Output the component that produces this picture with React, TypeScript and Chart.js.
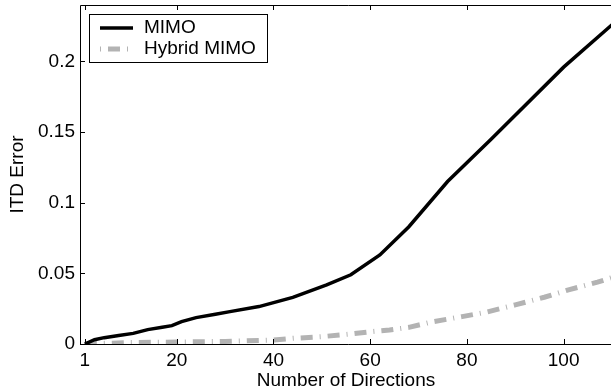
import React, { useEffect, useRef } from "react";
import { Chart, registerables } from "chart.js";

Chart.register(...registerables);

// ---- data ----
const mimoX = [1, 3, 5, 8, 11, 14, 17, 19, 21, 24, 28, 31, 37, 44, 51, 56, 62, 68, 76, 85, 100, 110];
const mimoY = [0, 0.003, 0.0045, 0.006, 0.0075, 0.0102, 0.0118, 0.013, 0.0158, 0.0187, 0.021, 0.0229, 0.0265, 0.033, 0.0418, 0.049, 0.063, 0.083, 0.115, 0.145, 0.196, 0.226];
const hybridX = [1, 10, 20, 30, 40, 44, 50, 56, 60, 64, 68, 73, 79, 84, 90, 96, 101, 107, 110];
const hybridY = [0, 0.001, 0.0014, 0.0018, 0.0028, 0.004, 0.0052, 0.0071, 0.0087, 0.0099, 0.0118, 0.0158, 0.0194, 0.0225, 0.0277, 0.0331, 0.0383, 0.0438, 0.047];
const xTicks = [1, 20, 40, 60, 80, 100];
const yTicks = [0, 0.05, 0.1, 0.15, 0.2];
const seriesLabels = ["MIMO", "Hybrid MIMO"];
const xTitle = "Number of Directions";
const yTitle = "ITD Error";

const FONT = "'Liberation Sans', Arial, Helvetica, sans-serif";
const FS = 19;

const axesPlugin = {
  id: "matlabAxes",
  afterDatasetsDraw(chart: any) {
    const { ctx, chartArea } = chart;
    const { left, right, top, bottom } = chartArea;
    const xs = chart.scales.x;
    const ys = chart.scales.y;
    const tl = 5;
    ctx.save();
    ctx.strokeStyle = "#000";
    ctx.lineWidth = 1;
    ctx.beginPath();
    // frame: left, bottom, top (right edge lies outside the view)
    ctx.moveTo(right + 5, top + 0.5);
    ctx.lineTo(left + 0.5, top + 0.5);
    ctx.lineTo(left + 0.5, bottom + 0.5);
    ctx.lineTo(right + 5, bottom + 0.5);
    xTicks.forEach((v) => {
      const px = Math.round(xs.getPixelForValue(v)) + 0.5;
      ctx.moveTo(px, bottom);
      ctx.lineTo(px, bottom - tl);
      ctx.moveTo(px, top);
      ctx.lineTo(px, top + tl);
    });
    yTicks.forEach((v) => {
      const py = Math.round(ys.getPixelForValue(v)) + 0.5;
      ctx.moveTo(left, py);
      ctx.lineTo(left + tl, py);
    });
    ctx.stroke();
    ctx.restore();
  },
  afterDraw(chart: any) {
    const { ctx } = chart;
    const bx = 89, by = 14, bw = 178, bh = 48;
    ctx.save();
    ctx.fillStyle = "#fff";
    ctx.fillRect(bx, by, bw, bh);
    ctx.strokeStyle = "#000";
    ctx.lineWidth = 1;
    ctx.strokeRect(bx + 0.5, by + 0.5, bw, bh);
    const rows = [28, 49];
    chart.data.datasets.forEach((ds: any, i: number) => {
      const y = rows[i];
      ctx.save();
      ctx.strokeStyle = ds.borderColor;
      ctx.lineWidth = ds.borderWidth;
      ctx.lineCap = "butt";
      if (i === 1) ctx.setLineDash([1, 7, 12, 7]);
      ctx.beginPath();
      ctx.moveTo(100, y);
      ctx.lineTo(133, y);
      ctx.stroke();
      ctx.restore();
      ctx.fillStyle = "#000";
      ctx.font = `${FS}px ${FONT}`;
      ctx.textBaseline = "middle";
      ctx.textAlign = "left";
      ctx.fillText(ds.label, 144, y);
    });
    ctx.restore();
  },
};

export default function App() {
  const ref = useRef<HTMLCanvasElement | null>(null);
  useEffect(() => {
    if (!ref.current) return;
    const chart = new Chart(ref.current, {
      type: "line",
      data: {
        datasets: [
          {
            label: seriesLabels[0],
            data: mimoX.map((x, i) => ({ x, y: mimoY[i] })),
            borderColor: "#000000",
            borderWidth: 3.5,
            pointRadius: 0,
            tension: 0,
            fill: false,
          },
          {
            label: seriesLabels[1],
            data: hybridX.map((x, i) => ({ x, y: hybridY[i] })),
            borderColor: "#b3b3b3",
            borderWidth: 5,
            borderDash: [12, 7, 1, 7],
            borderCapStyle: "butt",
            pointRadius: 0,
            tension: 0,
            fill: false,
          },
        ],
      },
      options: {
        animation: false,
        responsive: false,
        devicePixelRatio: 1,
        layout: { padding: { top: 5, right: 18, left: 0, bottom: 0 } },
        plugins: { legend: { display: false }, tooltip: { enabled: false } },
        scales: {
          x: {
            type: "linear",
            min: 0,
            max: 110,
            grid: { display: false, drawTicks: false },
            border: { display: false },
            afterBuildTicks: (s: any) => {
              s.ticks = xTicks.map((v) => ({ value: v }));
            },
            afterFit: (s: any) => {
              s.height = 48;
              s.paddingLeft = 0;
              s.paddingRight = 0;
            },
            ticks: {
              autoSkip: false,
              maxRotation: 0,
              padding: 5,
              color: "#000",
              font: { family: FONT, size: FS },
              callback: (v: any) => String(v),
            },
            title: {
              display: true,
              text: xTitle,
              color: "#000",
              font: { family: FONT, size: FS },
              padding: { top: 0, bottom: 0 },
            },
          },
          y: {
            type: "linear",
            min: 0,
            max: 0.24,
            grid: { display: false, drawTicks: false },
            border: { display: false },
            afterBuildTicks: (s: any) => {
              s.ticks = yTicks.map((v) => ({ value: v }));
            },
            afterFit: (s: any) => {
              s.width = 80;
              s.paddingTop = 0;
              s.paddingBottom = 0;
            },
            ticks: {
              autoSkip: false,
              padding: 5,
              color: "#000",
              font: { family: FONT, size: FS },
              callback: (v: any) => String(v),
            },
            title: {
              display: true,
              text: yTitle,
              color: "#000",
              font: { family: FONT, size: FS },
              padding: { top: 6, bottom: 0 },
            },
          },
        },
      },
      plugins: [axesPlugin],
    } as any);
    return () => chart.destroy();
  }, []);
  return (
    <div style={{ position: "fixed", left: 0, top: 0, width: 611, height: 392, overflow: "hidden", background: "#fff" }}>
      <canvas ref={ref} width={630} height={392} style={{ display: "block" }} />
    </div>
  );
}
